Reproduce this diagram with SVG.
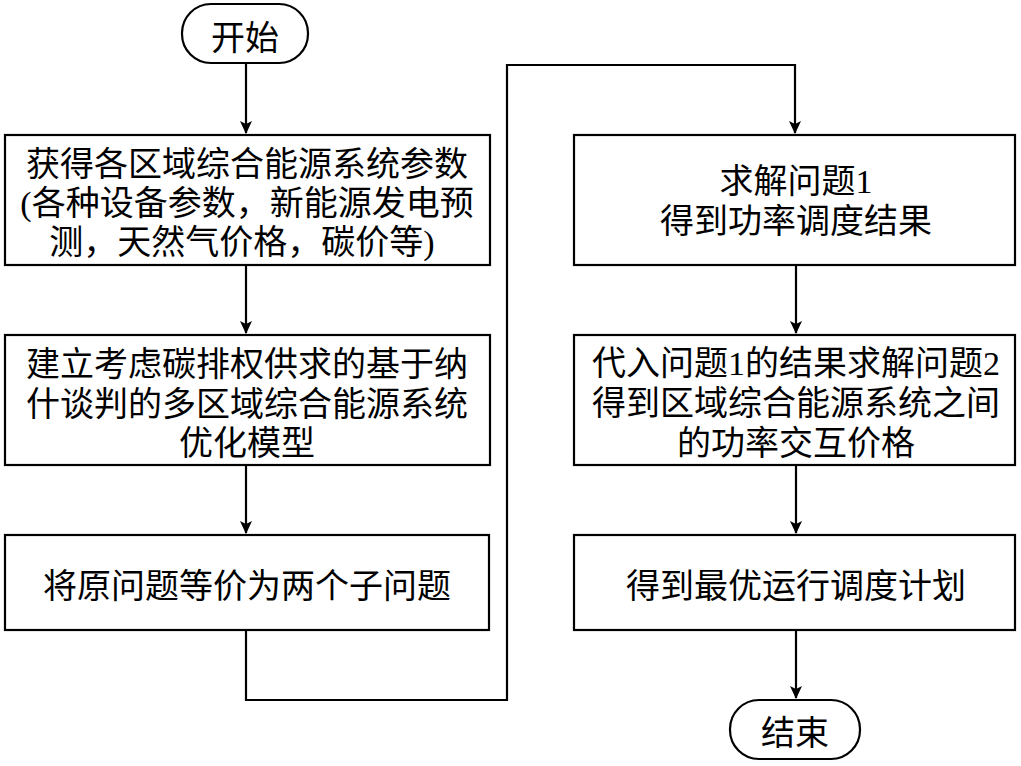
<svg xmlns="http://www.w3.org/2000/svg" width="1021" height="766" viewBox="0 0 1021 766">
<style>
.box{fill:#fff;stroke:#000;stroke-width:2.2}
.t{font-family:"Liberation Serif","Noto Sans CJK SC",serif;font-size:34px;fill:#000;text-anchor:middle}
.c{fill:none;stroke:#000;stroke-width:2.2}
</style>
<defs>
<marker id="ah" markerUnits="userSpaceOnUse" markerWidth="14" markerHeight="16" refX="12" refY="7" orient="auto">
<path d="M0,1 L13,7 L0,13 L3,7 Z" fill="#000"/>
</marker>
</defs>
<rect width="1021" height="766" fill="#fff"/>
<g id="connectors">
<path class="c" d="M246,63 V133" marker-end="url(#ah)"/>
<path class="c" d="M246,265 V333" marker-end="url(#ah)"/>
<path class="c" d="M246,465 V533" marker-end="url(#ah)"/>
<path class="c" d="M246,630 V700 H507 V65 H795 V133" marker-end="url(#ah)"/>
<path class="c" d="M796,265 V333" marker-end="url(#ah)"/>
<path class="c" d="M796,465 V533" marker-end="url(#ah)"/>
<path class="c" d="M796,630 V698" marker-end="url(#ah)"/>
</g>
<g id="start">
<rect class="box" x="182" y="4" width="126" height="59" rx="29" ry="29"/>
<text class="t" x="245" y="50">开始</text>
</g>
<g id="step1">
<rect class="box" x="5" y="135" width="485" height="130"/>
<text class="t" x="247" y="176">获得各区域综合能源系统参数</text>
<text class="t" x="247" y="215">(各种设备参数，新能源发电预</text>
<text class="t" x="242" y="254">测，天然气价格，碳价等)</text>
</g>
<g id="step2">
<rect class="box" x="5" y="335" width="485" height="130"/>
<text class="t" x="247" y="376">建立考虑碳排权供求的基于纳</text>
<text class="t" x="247" y="416">什谈判的多区域综合能源系统</text>
<text class="t" x="247" y="455">优化模型</text>
</g>
<g id="step3">
<rect class="box" x="5" y="535" width="484" height="95"/>
<text class="t" x="247" y="598">将原问题等价为两个子问题</text>
</g>
<g id="step4">
<rect class="box" x="574" y="135" width="441" height="130"/>
<text class="t" x="796" y="193">求解问题1</text>
<text class="t" x="796" y="233">得到功率调度结果</text>
</g>
<g id="step5">
<rect class="box" x="574" y="335" width="441" height="130"/>
<text class="t" x="796" y="375">代入问题1的结果求解问题2</text>
<text class="t" x="796" y="415">得到区域综合能源系统之间</text>
<text class="t" x="796" y="455">的功率交互价格</text>
</g>
<g id="step6">
<rect class="box" x="574" y="535" width="441" height="95"/>
<text class="t" x="796" y="598">得到最优运行调度计划</text>
</g>
<g id="end">
<rect class="box" x="730" y="700" width="130" height="59" rx="29" ry="29"/>
<text class="t" x="795" y="745">结束</text>
</g>
</svg>
